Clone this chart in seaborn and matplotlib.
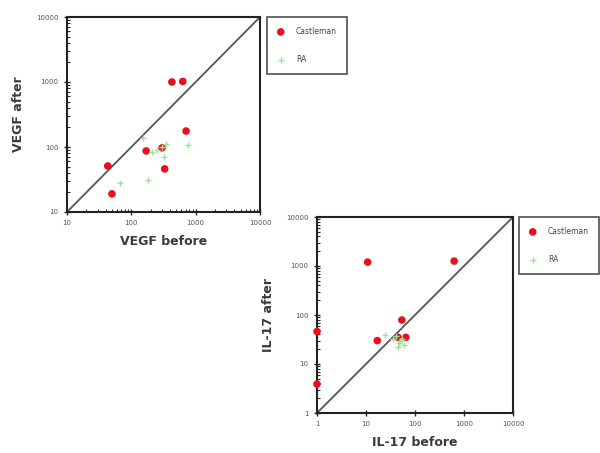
import numpy as np
import pandas as pd
import matplotlib
matplotlib.use("Agg")
import matplotlib.pyplot as plt
import seaborn as sns

# VEGF panel
vegf_cast_before = [427, 630, 710, 300, 170, 330, 43, 50]
vegf_cast_after = [1000, 1020, 176, 97, 87, 46, 51, 19]
vegf_ra_before = [760, 181, 66, 210, 300, 350, 320, 250, 150]
vegf_ra_after = [107, 31, 28, 85, 100, 110, 70, 90, 140]

# IL-17 panel
il17_cast_before = [10.8, 630, 54, 17, 65, 45, 1, 1]
il17_cast_after = [1200, 1260, 79, 30, 35, 35, 46, 3.9]
il17_ra_before = [48, 55, 40, 60, 45, 35, 50, 24]
il17_ra_after = [27, 32, 38, 25, 22, 33, 30, 39]

sns.set_style("white")
plt.rcParams['font.family'] = ['DejaVu Sans']

RED = "#e8101c"
GREEN = "#9ae396"


def make_df(cb, ca, rb, ra):
    d1 = pd.DataFrame({"before": cb, "after": ca, "group": "Castleman"})
    d2 = pd.DataFrame({"before": rb, "after": ra, "group": "RA"})
    return pd.concat([d1, d2], ignore_index=True)


def draw_panel(fig, rect, df, lo, xlabel, ylabel, ticks, legend_anchor):
    ax = fig.add_axes(rect)
    ax.set_xscale("log")
    ax.set_yscale("log")
    diag = pd.DataFrame({"x": [lo, 10000], "y": [lo, 10000]})
    sns.lineplot(data=diag, x="x", y="y", ax=ax, color="#555555", lw=1.3, legend=False)
    sns.scatterplot(data=df[df.group == "Castleman"], x="before", y="after", ax=ax,
                    color=RED, s=30, edgecolor="none", label="Castleman", zorder=3,
                    clip_on=False)
    sns.scatterplot(data=df[df.group == "RA"], x="before", y="after", ax=ax,
                    color=GREEN, marker="+", s=24, linewidth=1.0, label="RA", zorder=4,
                    clip_on=False)
    ax.set_xlim(lo, 10000)
    ax.set_ylim(lo, 10000)
    ax.set_xticks(ticks)
    ax.set_yticks(ticks)
    ax.set_xticklabels([str(t) for t in ticks], fontsize=5, color="#555555")
    ax.set_yticklabels([str(t) for t in ticks], fontsize=5, color="#555555")
    ax.tick_params(which="major", direction="inout", length=5, width=1, left=True, bottom=True)
    ax.tick_params(which="minor", direction="in", length=2.5, width=0.8, left=True, bottom=True)
    for sp in ax.spines.values():
        sp.set_linewidth(1.5)
        sp.set_color("#222222")
    ax.set_xlabel(xlabel, fontsize=9, fontweight="bold", color="#3a3a3a", labelpad=6)
    ax.set_ylabel(ylabel, fontsize=9, fontweight="bold", color="#3a3a3a", labelpad=8)
    handles, labels = ax.get_legend_handles_labels()
    ax.get_legend().remove()
    leg = fig.legend(handles, labels, loc="upper left", bbox_to_anchor=legend_anchor,
                     fontsize=5.5, frameon=True, fancybox=False, edgecolor="#222222",
                     labelspacing=2.5, borderpad=1.3, handletextpad=1.5, handlelength=1.0,
                     borderaxespad=0)
    leg.get_frame().set_linewidth(1.2)
    for t in leg.get_texts():
        t.set_color("#444444")
    return ax


fig = plt.figure(figsize=(6, 4.53), dpi=100)

df1 = make_df(vegf_cast_before, vegf_cast_after, vegf_ra_before, vegf_ra_after)
draw_panel(fig, [67 / 600, 1 - 212 / 453, 193 / 600, 195 / 453], df1, 10,
           "VEGF before", "VEGF after", [10, 100, 1000, 10000], (267 / 600, 1 - 17 / 453))

df2 = make_df(il17_cast_before, il17_cast_after, il17_ra_before, il17_ra_after)
draw_panel(fig, [317 / 600, 1 - 413 / 453, 196 / 600, 196 / 453], df2, 1,
           "IL-17 before", "IL-17 after", [1, 10, 100, 1000, 10000], (519 / 600, 1 - 217 / 453))

fig.savefig("out.png", dpi=100)
